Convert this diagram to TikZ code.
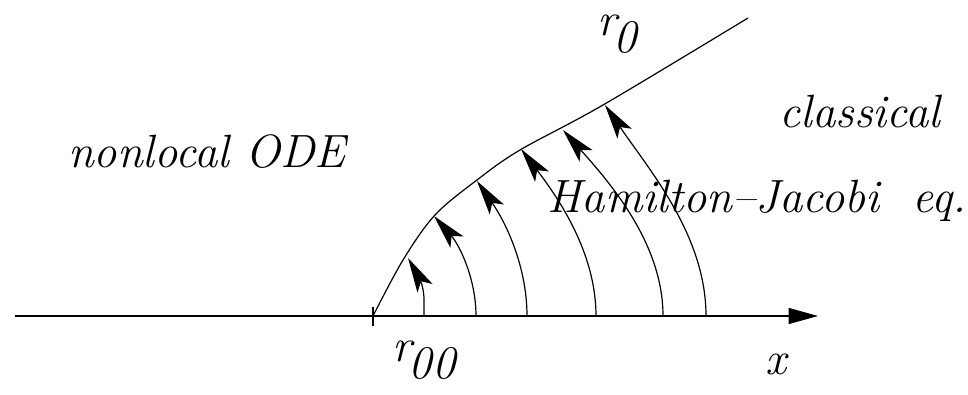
\documentclass[tikz,border=0pt]{standalone}
\usetikzlibrary{arrows.meta}
\begin{document}
\begin{tikzpicture}[x=0.75pt,y=-0.75pt,
  line/.style={line width=0.9pt},
  flow/.style={line width=0.9pt,-{Stealth[length=26pt,width=13pt,inset=6pt]}},
  lbl/.style={inner sep=0pt,font=\fontsize{35}{42}\selectfont\itshape}]
\useasboundingbox (0,0) rectangle (968,395);
% axis
\coordinate (a0) at (15,316);
\coordinate (a1) at (818,316);
\draw[line,-{Stealth[length=22pt,width=12pt,inset=0pt]}] (a0) -- (a1);
% tick
\coordinate (t0) at (373,307);
\coordinate (t1) at (373,326);
\draw[line] (t0) -- (t1);
% free boundary curve r0
\draw[line] plot[smooth,tension=0.55] coordinates
  {(373,316) (403,260) (435,215) (477,180) (520,150) (603,105) (748,18)};
% characteristic lines
\coordinate (s1) at (424,316); \coordinate (e1) at (408,258);
\coordinate (s2) at (476,316); \coordinate (e2) at (434,216);
\coordinate (s3) at (527,316); \coordinate (e3) at (477,181);
\coordinate (s4) at (596,316); \coordinate (e4) at (521,149);
\coordinate (s5) at (663,316); \coordinate (e5) at (563,130);
\coordinate (s6) at (706,316); \coordinate (e6) at (605,105);
\draw[flow] (s1) -- (424,300) .. controls (424,284) and (417,274) .. (e1);
\draw[flow] (s2) .. controls (476,278) and (459,244.5) .. (e2);
\draw[flow] (s3) .. controls (527,266) and (505.5,222) .. (e3);
\draw[flow] (s4) .. controls (596,253) and (559,199) .. (e4);
\draw[flow] (s5) .. controls (663,244) and (611,184) .. (e5);
\draw[flow] (s6) .. controls (706,236) and (650,171) .. (e6);
% labels
\node[lbl,anchor=base] (nl) at (207,168) {nonlocal ODE};
\node[lbl,anchor=base] (cl) at (860,128) {classical};
\node[lbl,anchor=base] (hj) at (757,213) {Hamilton--Jacobi\ \ eq.};
\node[lbl,anchor=base west] (r0) at (597,36) {r\kern-2pt\raisebox{-12.5pt}{0}};
\node[lbl,anchor=base west] (r00) at (392,362) {r\kern-2pt\raisebox{-12.5pt}{00}};
\node[lbl,anchor=base west] (x) at (765,375) {x};
\end{tikzpicture}
\end{document}
